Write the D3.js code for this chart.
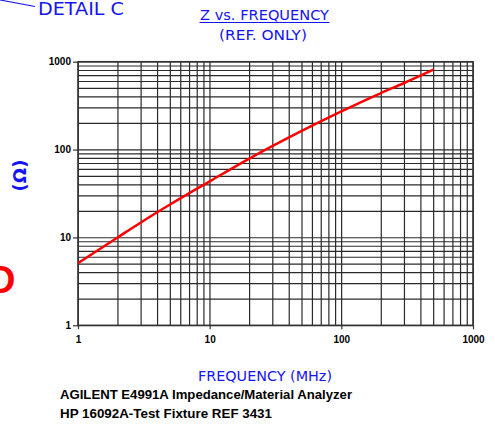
<!DOCTYPE html>
<html>
<head>
  <meta charset="utf-8">
  <title>Z vs. Frequency</title>
  <style>
    body {margin:0; background:#fff;}
    svg text {font-family: "Liberation Sans", Arial, sans-serif;}
    .blue {fill:#1414f5;}
    .tick text {font-weight:bold; font-size:10px; fill:#000;}
  </style>
</head>
<body>
<script src="https://cdn.jsdelivr.net/npm/d3@7"></script>
<script>
  var width = 495,
      height = 426;

  // impedance curve
  var freq = [1, 2, 3, 5, 10, 20, 50, 100, 200, 300, 500];
  var impedance = [5.1, 10, 14.8, 23.7, 43.5, 79, 163, 272, 440, 572, 811];

  var xTicks = [1, 10, 100, 1000];
  var yTicks = [1, 10, 100, 1000];

  var pLeft = 78, pRight = 473, pTop = 61.7, pBottom = 325.3;

  var svg = d3.select('body')
    .append('svg')
    .attr('width', width)
    .attr('height', height);

  var x = d3.scaleLog().domain([1, 1000]).range([pLeft, pRight]);
  var y = d3.scaleLog().domain([1, 1000]).range([pBottom, pTop]);

  // minor + major grid values
  var gridVals = [];
  [1, 10, 100].forEach(function(d){
    for (var k = 1; k < 10; k++) gridVals.push(d * k);
  });
  gridVals.push(1000);

  var grid = svg.append('g')
    .style('stroke', '#2a2a2a')
    .style('stroke-width', 1.2);

  grid.selectAll('line.v')
    .data(gridVals)
    .enter().append('line')
    .attr('class', 'v')
    .attr('x1', function(d){ return x(d) + 0.3; })
    .attr('x2', function(d){ return x(d) + 0.3; })
    .attr('y1', pTop)
    .attr('y2', pBottom);

  grid.selectAll('line.h')
    .data(gridVals)
    .enter().append('line')
    .attr('class', 'h')
    .attr('x1', pLeft)
    .attr('x2', pRight)
    .attr('y1', function(d){ return y(d) + 0.3; })
    .attr('y2', function(d){ return y(d) + 0.3; });

  svg.append('rect')
    .attr('x', pLeft)
    .attr('y', pTop)
    .attr('width', pRight - pLeft)
    .attr('height', pBottom - pTop)
    .style('fill', 'none')
    .style('stroke', '#333')
    .style('stroke-width', 1.5);

  // axes
  var xAxis = svg.append('g')
    .attr('transform', 'translate(0,' + pBottom + ')')
    .call(d3.axisBottom(x).tickValues(xTicks).tickFormat(d3.format('d')).tickSize(4).tickPadding(7));

  var yAxis = svg.append('g')
    .attr('transform', 'translate(' + pLeft + ',0)')
    .call(d3.axisLeft(y).tickValues(yTicks).tickFormat(d3.format('d')).tickSize(5).tickPadding(2));

  [xAxis, yAxis].forEach(function(a){
    a.select('.domain').remove();
    a.selectAll('.tick line').style('stroke', '#333').style('stroke-width', 1.2);
  });

  // curve
  var line = d3.line()
    .x(function(d, i){ return x(freq[i]); })
    .y(function(d){ return y(d); })
    .curve(d3.curveMonotoneX);

  svg.append('path')
    .datum(impedance)
    .attr('d', line)
    .style('fill', 'none')
    .style('stroke', '#ff0000')
    .style('stroke-width', 2.5);

  // header
  svg.append('line')
    .attr('x1', 0).attr('y1', 0)
    .attr('x2', 35).attr('y2', 6.5)
    .style('stroke', '#1414f5')
    .style('stroke-width', 1.2);

  svg.append('text')
    .attr('class', 'blue')
    .attr('x', 38)
    .attr('y', 15)
    .attr('textLength', 86)
    .attr('lengthAdjust', 'spacingAndGlyphs')
    .style('font-family', 'DejaVu Sans')
    .style('font-size', '17px')
    .text('DETAIL C');

  svg.append('text')
    .attr('class', 'blue')
    .attr('x', 200)
    .attr('y', 20)
    .attr('textLength', 129)
    .attr('lengthAdjust', 'spacingAndGlyphs')
    .style('font-family', 'DejaVu Sans')
    .style('font-size', '13.5px')
    .text('Z vs. FREQUENCY');

  svg.append('line')
    .attr('x1', 199.5).attr('x2', 329.5)
    .attr('y1', 22.5).attr('y2', 22.5)
    .style('stroke', '#1414f5')
    .style('stroke-width', 1);

  svg.append('text')
    .attr('class', 'blue')
    .attr('x', 219)
    .attr('y', 40)
    .attr('textLength', 88)
    .attr('lengthAdjust', 'spacingAndGlyphs')
    .style('font-family', 'DejaVu Sans')
    .style('font-size', '13.5px')
    .text('(REF. ONLY)');

  // y label
  svg.append('text')
    .attr('class', 'blue')
    .attr('transform', 'translate(25.5,175.5) rotate(-90)')
    .attr('text-anchor', 'middle')
    .style('font-family', 'DejaVu Sans')
    .style('font-weight', 'bold')
    .style('font-size', '18px')
    .text('(Ω)');

  // red mark on the left edge
  svg.append('text')
    .attr('x', -12)
    .attr('y', 293)
    .style('fill', '#ff0000')
    .style('font-weight', '900')
    .style('font-size', '38px')
    .text('D');

  // x label
  svg.append('text')
    .attr('class', 'blue')
    .attr('x', 198)
    .attr('y', 381)
    .attr('textLength', 134)
    .attr('lengthAdjust', 'spacingAndGlyphs')
    .style('font-family', 'DejaVu Sans')
    .style('font-size', '14px')
    .text('FREQUENCY (MHz)');

  // footer
  svg.append('text')
    .attr('x', 60)
    .attr('y', 398.5)
    .attr('textLength', 292)
    .attr('lengthAdjust', 'spacingAndGlyphs')
    .style('font-weight', 'bold')
    .style('font-size', '13px')
    .text('AGILENT E4991A Impedance/Material Analyzer');

  svg.append('text')
    .attr('x', 60)
    .attr('y', 418)
    .attr('textLength', 212)
    .attr('lengthAdjust', 'spacingAndGlyphs')
    .style('font-weight', 'bold')
    .style('font-size', '13px')
    .text('HP 16092A-Test Fixture REF 3431');
</script>
</body>
</html>
